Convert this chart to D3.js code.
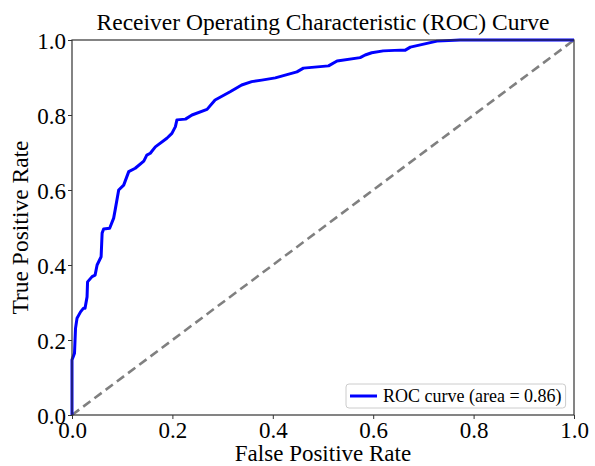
<!DOCTYPE html>
<html>
<head>
<meta charset="utf-8">
<script src="https://cdn.jsdelivr.net/npm/d3@7"></script>
<style>
  html, body { margin: 0; padding: 0; background: #ffffff; }
  svg { display: block; }
  text { font-family: "Liberation Serif", "Times New Roman", serif; fill: #000; }
</style>
</head>
<body>
<div id="chart"></div>
<script>
// ROC curve: false positive rate vs. true positive rate
const fpr = [0, 0, 0.005, 0.007, 0.010, 0.017, 0.023, 0.026, 0.030, 0.031, 0.040, 0.046, 0.050, 0.058,
  0.060, 0.063, 0.075, 0.083, 0.086, 0.093, 0.103, 0.113, 0.126, 0.143, 0.149, 0.156, 0.166, 0.189,
  0.199, 0.206, 0.209, 0.226, 0.239, 0.269, 0.285, 0.315, 0.338, 0.358, 0.378, 0.405, 0.448, 0.461,
  0.511, 0.528, 0.574, 0.584, 0.597, 0.620, 0.654, 0.664, 0.674, 0.727, 0.773, 1.0];
const tpr = [0, 0.147, 0.165, 0.231, 0.258, 0.275, 0.285, 0.285, 0.315, 0.355, 0.369, 0.373, 0.400, 0.422,
  0.485, 0.496, 0.498, 0.525, 0.547, 0.600, 0.613, 0.649, 0.658, 0.677, 0.693, 0.698, 0.715, 0.738,
  0.751, 0.769, 0.787, 0.789, 0.800, 0.815, 0.840, 0.862, 0.880, 0.889, 0.893, 0.899, 0.915, 0.925,
  0.931, 0.944, 0.953, 0.960, 0.966, 0.971, 0.973, 0.973, 0.981, 0.997, 1.0, 1.0];
const rocAuc = 0.86;

// chance line
const chanceX = [0, 1];
const chanceY = [0, 1];

const xTicks = [0, 0.2, 0.4, 0.6, 0.8, 1.0];
const yTicks = [0, 0.2, 0.4, 0.6, 0.8, 1.0];

const titleText = "Receiver Operating Characteristic (ROC) Curve";
const xLabel = "False Positive Rate";
const yLabel = "True Positive Rate";

const W = 595, H = 466;
const plot = { left: 72, right: 574, top: 40, bottom: 415 };

const svg = d3.select("#chart").append("svg")
  .attr("width", W).attr("height", H);

svg.append("rect").attr("width", W).attr("height", H).attr("fill", "#fff");

const x = d3.scaleLinear().domain([0, 1]).range([plot.left, plot.right]);
const y = d3.scaleLinear().domain([0, 1]).range([plot.bottom, plot.top]);

const pw = plot.right - plot.left, ph = plot.bottom - plot.top;

const line = d3.line().x(d => x(d[0])).y(d => y(d[1]));

// chance diagonal
svg.append("path")
  .datum(d3.zip(chanceX, chanceY))
  .attr("d", line)
  .attr("fill", "none")
  .attr("stroke", "#808080")
  .attr("stroke-width", 2.6)
  .attr("stroke-dasharray", "9,5");

// ROC curve
svg.append("path")
  .datum(d3.zip(fpr, tpr))
  .attr("d", line)
  .attr("fill", "none")
  .attr("stroke", "#0000ff")
  .attr("stroke-width", 3)
  .attr("stroke-linejoin", "round")
  .attr("stroke-linecap", "butt");

// axes
const xAxis = d3.axisBottom(x).tickValues(xTicks).tickFormat(d3.format(".1f")).tickSize(4).tickPadding(2);
const yAxis = d3.axisLeft(y).tickValues(yTicks).tickFormat(d3.format(".1f")).tickSize(4).tickPadding(2);

const gx = svg.append("g").attr("transform", `translate(0,${plot.bottom})`).call(xAxis);
const gy = svg.append("g").attr("transform", `translate(${plot.left},0)`).call(yAxis);

[gx, gy].forEach(g => {
  g.select(".domain").remove();
  g.selectAll(".tick line").attr("stroke", "#333").attr("stroke-width", 1);
  g.selectAll(".tick text")
    .style("font-family", '"Liberation Serif", "Times New Roman", serif')
    .style("font-size", "23px")
    .attr("fill", "#000");
});
gx.selectAll(".tick text").attr("dy", "0.72em");
gy.selectAll(".tick text").attr("dy", "0.35em");

// frame
svg.append("rect")
  .attr("x", plot.left).attr("y", plot.top)
  .attr("width", pw).attr("height", ph)
  .attr("fill", "none").attr("stroke", "#333").attr("stroke-width", 1.2);

// title and axis labels
svg.append("text")
  .attr("x", (plot.left + plot.right) / 2).attr("y", 30)
  .attr("text-anchor", "middle")
  .style("font-size", "23.5px")
  .text(titleText);

svg.append("text")
  .attr("x", (plot.left + plot.right) / 2).attr("y", 461)
  .attr("text-anchor", "middle")
  .style("font-size", "23px")
  .text(xLabel);

svg.append("text")
  .attr("transform", `translate(28,${(plot.top + plot.bottom) / 2}) rotate(-90)`)
  .attr("text-anchor", "middle")
  .style("font-size", "23.5px")
  .text(yLabel);

// legend
const lg = svg.append("g");
const legendText = `ROC curve (area = ${rocAuc.toFixed(2)})`;
const lt = lg.append("text")
  .attr("x", 383).attr("y", 402)
  .style("font-size", "18px")
  .text(legendText);
const tw = lt.node().getComputedTextLength();
const boxLeft = 346, boxRight = 383 + tw + 4;
lg.insert("rect", "text")
  .attr("x", boxLeft).attr("y", 384)
  .attr("width", boxRight - boxLeft).attr("height", 24)
  .attr("rx", 3)
  .attr("fill", "#fff")
  .attr("stroke", "#cccccc").attr("stroke-width", 1);
lg.append("line")
  .attr("x1", 350).attr("x2", 377)
  .attr("y1", 396).attr("y2", 396)
  .attr("stroke", "#0000ff").attr("stroke-width", 3);
</script>
</body>
</html>
